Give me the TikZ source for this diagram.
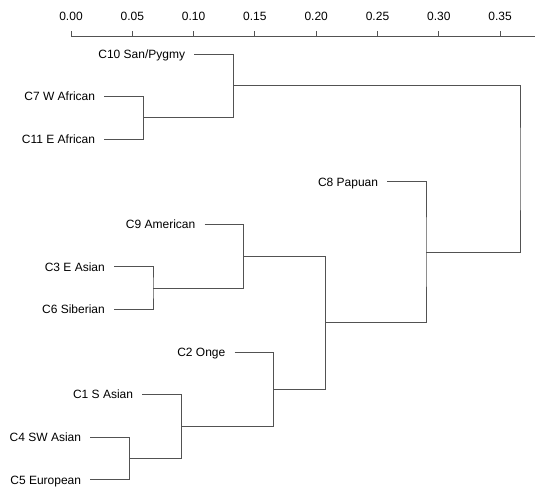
\documentclass[tikz,border=0pt]{standalone}
\usepackage{fontspec}
\setmainfont{Liberation Sans}
\begin{document}
\begin{tikzpicture}[x=1pt,y=-1pt,
  edge/.style={draw=black!68,line width=0.9pt},
  leaflab/.style={anchor=base east,inner sep=0pt,font=\fontsize{12}{14}\selectfont},
  ticklab/.style={anchor=base,inner sep=0pt,font=\fontsize{12}{14}\selectfont}]
\useasboundingbox (0,0) rectangle (535,495);
% axis
\coordinate (a0) at (71,36);
\coordinate (a1) at (535,36);
\draw[edge] (a0) -- (a1);
\foreach \v [count=\i from 0] in {0.00,0.05,0.10,0.15,0.20,0.25,0.30,0.35}{
  \coordinate (t\i) at ({71+61.3*\i},36);
  \draw[edge] (t\i) -- ++(0,-5);
  \node[ticklab] (tl\i) at ({71+61.3*\i},20.7) {\v};
}
% leaf labels (east edge 9px left of line start)
\node[leaflab] (l10) at (185.3,58.3) {C10 San/Pygmy};
\node[leaflab] (l7)  at (95.3,100.9) {C7 W African};
\node[leaflab] (l11) at (95.3,143.4) {C11 E African};
\node[leaflab] (l8)  at (378.3,186.0) {C8 Papuan};
\node[leaflab] (l9)  at (195.5,228.6) {C9 American};
\node[leaflab] (l3)  at (105,271.2) {C3 E Asian};
\node[leaflab] (l6)  at (105,313.7) {C6 Siberian};
\node[leaflab] (l2)  at (225.5,356.3) {C2 Onge};
\node[leaflab] (l1)  at (133.3,398.9) {C1 S Asian};
\node[leaflab] (l4)  at (81.3,441.4) {C4 SW Asian};
\node[leaflab] (l5)  at (81.3,484.0) {C5 European};
% leaf line starts
\coordinate (s10) at (194.3,54);
\coordinate (s7)  at (104.3,96.6);
\coordinate (s11) at (104.3,139.1);
\coordinate (s8)  at (387.3,181.7);
\coordinate (s9)  at (204.5,224.3);
\coordinate (s3)  at (114,266.9);
\coordinate (s6)  at (114,309.4);
\coordinate (s2)  at (234.5,352);
\coordinate (s1)  at (142.3,394.6);
\coordinate (s4)  at (90.3,437.1);
\coordinate (s5)  at (90.3,479.7);
% internal merge points
\coordinate (n711) at (143.3,117.9);
\coordinate (naf)  at (233.3,85.9);
\coordinate (n36)  at (153,288.2);
\coordinate (n9)   at (243.7,256.2);
\coordinate (n45)  at (129.3,458.4);
\coordinate (n1)   at (181.3,426.5);
\coordinate (n2)   at (273.3,389.3);
\coordinate (nas)  at (325.7,322.7);
\coordinate (n8)   at (426,252.2);
\coordinate (root) at (520,169);
% edges
\draw[edge] (s7) -| (n711) |- (s11);
\draw[edge] (s10) -| (naf) |- (n711);
\draw[edge] (s3) -| (n36) |- (s6);
\draw[edge] (s9) -| (n9) |- (n36);
\draw[edge] (s4) -| (n45) |- (s5);
\draw[edge] (s1) -| (n1) |- (n45);
\draw[edge] (s2) -| (n2) |- (n1);
\draw[edge] (n9) -| (nas) |- (n2);
\draw[edge] (s8) -| (n8) |- (nas);
\draw[edge] (naf) -| (root) |- (n8);
\end{tikzpicture}
\end{document}
